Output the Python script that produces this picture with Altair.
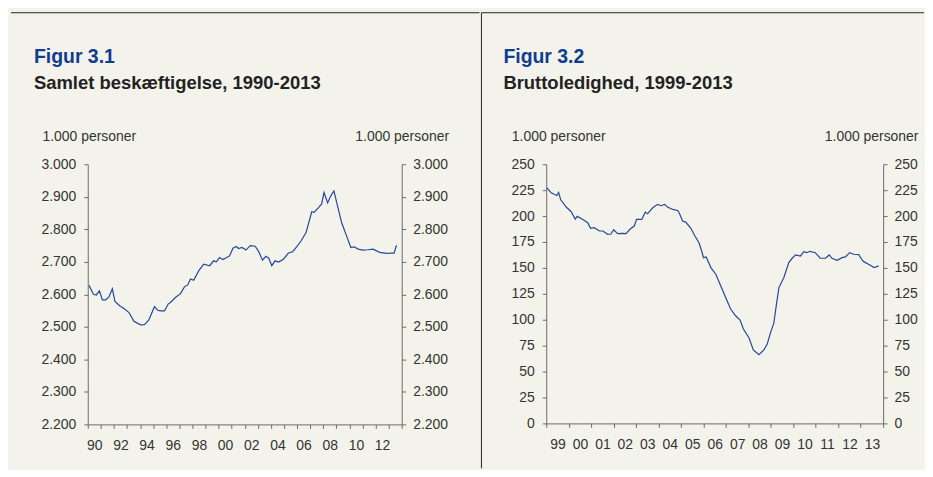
import altair as alt
import pandas as pd

# ---- Figur 3.1: Samlet beskæftigelse (1.000 personer) ----
emp_year = [1990.10, 1990.43, 1990.66, 1990.89, 1991.12, 1991.37, 1991.62, 1991.88,
            1992.08, 1992.44, 1992.82, 1993.15, 1993.35, 1993.53, 1994.04, 1994.34,
            1994.67, 1995.10, 1995.35, 1995.56, 1995.87, 1996.15, 1996.32, 1996.70,
            1997.09, 1997.39, 1997.64, 1997.85, 1998.10, 1998.48, 1998.86, 1999.32,
            1999.62, 1999.83, 2000.08, 2000.34, 2000.84, 2001.10, 2001.35, 2001.53,
            2001.79, 2002.09, 2002.42, 2002.80, 2003.05, 2003.36, 2003.61, 2003.84,
            2004.07, 2004.32, 2004.58, 2004.96, 2005.34, 2005.67, 2005.98, 2006.30,
            2006.69, 2007.12, 2007.30, 2007.62, 2007.88, 2008.06, 2008.34, 2008.57,
            2008.82, 2009.07, 2009.41, 2009.79, 2010.11, 2010.37, 2010.67, 2011.05,
            2011.43, 2011.81, 2012.32, 2012.83, 2013.29, 2013.41, 2013.60]
emp_value = [2628, 2600, 2598, 2611, 2583, 2583, 2592, 2617,
             2578, 2565, 2555, 2544, 2530, 2517, 2506, 2507,
             2521, 2562, 2551, 2549, 2549, 2570, 2575, 2590,
             2602, 2623, 2629, 2647, 2643, 2672, 2693, 2688,
             2703, 2700, 2713, 2707, 2718, 2742, 2747, 2741,
             2744, 2736, 2750, 2748, 2733, 2705, 2717, 2711,
             2688, 2703, 2699, 2708, 2727, 2731, 2747, 2764,
             2790, 2854, 2852, 2866, 2878, 2913, 2881, 2902,
             2918, 2876, 2820, 2779, 2744, 2746, 2739, 2736,
             2737, 2739, 2729, 2726, 2727, 2726, 2751]

# ---- Figur 3.2: Bruttoledighed (1.000 personer) ----
unemp_year = [1999.03, 1999.22, 1999.37, 1999.47, 1999.55, 1999.64, 1999.89, 2000.11,
              2000.29, 2000.38, 2000.63, 2000.85, 2000.97, 2001.14, 2001.37, 2001.52,
              2001.74, 2001.88, 2002.00, 2002.18, 2002.40, 2002.55, 2002.74, 2002.92,
              2003.02, 2003.25, 2003.41, 2003.51, 2003.74, 2003.96, 2004.10, 2004.28,
              2004.40, 2004.63, 2004.85, 2004.92, 2005.07, 2005.21, 2005.44, 2005.62,
              2005.80, 2005.92, 2006.00, 2006.12, 2006.33, 2006.55, 2006.80, 2006.99,
              2007.21, 2007.43, 2007.63, 2007.78, 2008.03, 2008.22, 2008.47, 2008.69,
              2008.84, 2008.99, 2009.13, 2009.25, 2009.36, 2009.58, 2009.80, 2009.95,
              2010.10, 2010.32, 2010.47, 2010.61, 2010.73, 2010.98, 2011.20, 2011.43,
              2011.60, 2011.72, 2011.95, 2012.17, 2012.32, 2012.51, 2012.69, 2012.91,
              2013.10, 2013.21, 2013.35, 2013.60, 2013.80]
unemp_value = [227.2, 222.4, 220.8, 219.9, 222.8, 216.0, 208.7, 204.2,
               197.1, 199.7, 196.8, 193.6, 188.2, 188.8, 185.6, 185.6,
               182.4, 182.7, 186.8, 183.0, 183.4, 183.0, 187.5, 190.4,
               196.8, 196.8, 203.8, 202.2, 208.0, 211.3, 210.0, 211.3,
               208.7, 206.4, 205.4, 203.2, 195.2, 194.2, 188.2, 180.8,
               174.3, 166.3, 159.9, 160.6, 150.3, 143.9, 131.1, 121.4,
               110.3, 103.8, 99.7, 91.0, 82.4, 70.9, 66.3, 70.9,
               76.6, 87.8, 96.4, 115.0, 131.0, 140.7, 155.1, 159.3,
               162.5, 161.5, 165.7, 164.7, 166.0, 164.7, 159.3, 159.3,
               162.5, 159.3, 157.4, 159.9, 160.6, 164.7, 163.2, 162.8,
               156.7, 155.1, 153.6, 150.3, 151.9]

fig_labels = ["Figur 3.1", "Figur 3.2"]
sub_labels = ["Samlet beskæftigelse, 1990-2013", "Bruttoledighed, 1999-2013"]
unit_label = "1.000 personer"

BG = "#f4f3eb"
LINE = "#24489a"
TITLE_BLUE = "#0f3d8f"
TXT = "#333333"
AX = "#6a6a6a"
FONT = "Liberation Sans"
FS = 14


def panel(years, values, xmin, xmax, ymin, ymax, ystep, label_expr, w, h,
          fig, sub, lt_x, rt_x, title_dx, rule_x1, rule_x2, vline):
    df = pd.DataFrame({"year": years, "value": values})
    xs = alt.Scale(domain=[xmin, xmax], nice=False, zero=False)
    ys = alt.Scale(domain=[ymin, ymax], nice=False, zero=False)
    yvals = list(range(ymin, ymax + 1, ystep))
    xvals = list(range(xmin, xmax + 1))
    yexpr = "replace(format(datum.value, ','), ',', '.')"
    step = w / (xmax - xmin)

    xaxis = alt.Axis(values=xvals, labelExpr=label_expr, labelOffset=step / 2,
                     tickSize=4, labelPadding=10, domainColor=AX, tickColor=AX,
                     labelColor=TXT, labelFont=FONT, labelFontSize=FS,
                     labelFlush=False, labelOverlap=False, grid=False, title=None)
    common = dict(values=yvals, labelExpr=yexpr, tickSize=4, domainColor=AX,
                  tickColor=AX, labelColor=TXT, labelFont=FONT, labelFontSize=FS,
                  grid=False, title=unit_label, titleAngle=0,
                  titleBaseline="alphabetic", titleY=-24, titleFont=FONT,
                  titleFontSize=FS, titleFontWeight="normal", titleColor=TXT,
                  labelOverlap=False)
    left_axis = alt.Axis(orient="left", labelPadding=8, titleAlign="left",
                         titleX=lt_x, **common)
    right_axis = alt.Axis(orient="right", labelPadding=7, titleAlign="right",
                          titleX=rt_x, **common)

    base = alt.Chart(df)
    line_l = base.mark_line(color=LINE, strokeWidth=1.2).encode(
        x=alt.X("year:Q", scale=xs, axis=xaxis),
        y=alt.Y("value:Q", scale=ys, axis=left_axis),
    )
    line_r = base.mark_line(opacity=0).encode(
        x=alt.X("year:Q", scale=xs, axis=xaxis),
        y=alt.Y("value:Q", scale=ys, axis=right_axis),
    )
    one = pd.DataFrame({"t": [fig]})
    fig_t = alt.Chart(one).mark_text(
        align="left", baseline="alphabetic", font=FONT, fontSize=19.5,
        fontWeight="bold", color=TITLE_BLUE
    ).encode(text="t:N", x=alt.value(title_dx), y=alt.value(-102))
    sub_t = alt.Chart(pd.DataFrame({"t": [sub]})).mark_text(
        align="left", baseline="alphabetic", font=FONT, fontSize=18.5,
        fontWeight="bold", color="#222222"
    ).encode(text="t:N", x=alt.value(title_dx), y=alt.value(-75))
    top_rule = alt.Chart(pd.DataFrame({"a": [0]})).mark_rule(
        color="#222222", strokeWidth=1
    ).encode(x=alt.value(rule_x1), x2=alt.value(rule_x2), y=alt.value(-152))
    layers = [line_l, line_r, fig_t, sub_t, top_rule]
    if vline:
        v_rule = alt.Chart(pd.DataFrame({"a": [0]})).mark_rule(
            color="#222222", strokeWidth=1
        ).encode(x=alt.value(rule_x1), y=alt.value(-152), y2=alt.value(305))
        layers.append(v_rule)
    return alt.layer(*layers).resolve_scale(y="shared").resolve_axis(
        y="independent").properties(width=w, height=h)


p1 = panel(emp_year, emp_value, 1990, 2014, 2200, 3000, 100,
           "datum.value % 2 == 0 && datum.value < 2014 ? substring(toString(datum.value), 2) : ''",
           315, 261, fig_labels[0], sub_labels[0], -46, 47, -54, -77, 393, False)
p2 = panel(unemp_year, unemp_value, 1999, 2014, 0, 250, 25,
           "datum.value < 2014 ? substring(toString(datum.value), 2) : ''",
           338, 260, fig_labels[1], sub_labels[1], -35, 35, -43, -65, 379, True)

chart = alt.hconcat(p1, p2, spacing=0).properties(
    background=BG,
    padding={"left": 2, "top": 3, "right": 0, "bottom": 0},
).configure_view(stroke=None)

chart.save("out.html", embed_options={"renderer": "svg", "actions": False})
